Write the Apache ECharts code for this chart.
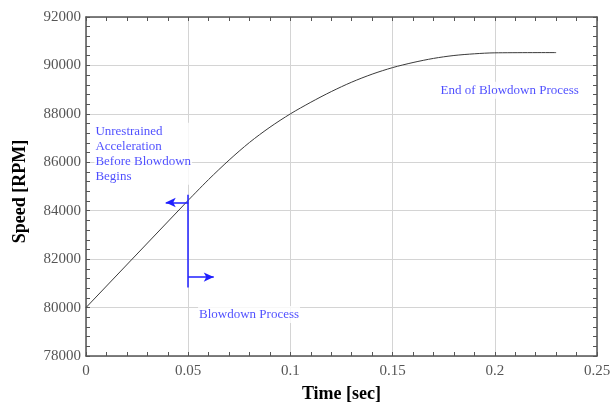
<!DOCTYPE html>
<html>
<head>
<meta charset="utf-8">
<script src="https://cdn.jsdelivr.net/npm/echarts@6/dist/echarts.min.js"></script>
<style>
  html, body { margin: 0; padding: 0; background: #fff; }
  #chart { width: 616px; height: 408px; }
</style>
</head>
<body>
<div id="chart"></div>
<script>
// Rotor speed over time: unrestrained acceleration, then blowdown
const timeSec = [0, 0.05, 0.06, 0.07, 0.08, 0.09, 0.10, 0.11, 0.12, 0.13, 0.14, 0.15, 0.16, 0.17, 0.18, 0.19, 0.20, 0.23];
const speedRpm = [80000, 84430, 85290, 86090, 86820, 87450, 88000, 88480, 88920, 89310, 89640, 89910, 90120, 90290, 90410, 90480, 90520, 90530];
// index where blowdown begins (end of the straight acceleration segment)
const blowdownStartIndex = 1;

// Axis ticks
const xTicks = [0, 0.05, 0.1, 0.15, 0.2, 0.25];
const yTicks = [78000, 80000, 82000, 84000, 86000, 88000, 90000, 92000];

// Annotation geometry in data units: [time, speed]
const blowdownStartLine = [[0.05, 84660], [0.05, 80830]];
const arrowBefore = [[0.05, 84340], [0.039, 84340]];
const arrowAfter = [[0.05, 81260], [0.0625, 81260]];

// Annotation texts and their anchors (left edge, vertical middle)
const notes = [
  { text: 'Unrestrained\nAcceleration\nBefore Blowdown\nBegins', at: [0.0041, 86350] },
  { text: 'Blowdown Process', at: [0.0548, 79710] },
  { text: 'End of Blowdown Process', at: [0.173, 88980] }
];

const SERIF = '"Liberation Serif", "DejaVu Serif", serif';
const BLUE = '#1f1fff';
const AXIS = '#555555';
const GRID = '#d4d4d4';
const CURVE = '#3a3a3a';

const points = timeSec.map((t, i) => [t, speedRpm[i]]);
const accelPart = points.slice(0, blowdownStartIndex + 1);
const blowdownPart = points.slice(blowdownStartIndex);

const chart = echarts.init(document.getElementById('chart'), null, { renderer: 'canvas' });

function baseX(extra) {
  return Object.assign({
    type: 'value',
    min: xTicks[0],
    max: xTicks[xTicks.length - 1],
    interval: xTicks[1] - xTicks[0],
    axisLine: { show: true, onZero: false, lineStyle: { color: AXIS, width: 1.5 } },
    axisTick: { show: true, inside: true, length: 4, lineStyle: { color: AXIS } },
    minorTick: { show: true, splitNumber: 5, length: 4, lineStyle: { color: AXIS } },
    splitLine: { show: false }
  }, extra);
}
function baseY(extra) {
  return Object.assign({
    type: 'value',
    min: yTicks[0],
    max: yTicks[yTicks.length - 1],
    interval: yTicks[1] - yTicks[0],
    axisLine: { show: true, onZero: false, lineStyle: { color: AXIS, width: 1.5 } },
    axisTick: { show: true, inside: true, length: 4, lineStyle: { color: AXIS } },
    minorTick: { show: true, splitNumber: 5, length: 4, lineStyle: { color: AXIS } },
    splitLine: { show: false }
  }, extra);
}

chart.setOption({
  animation: false,
  backgroundColor: '#ffffff',
  grid: { left: 86, top: 17, right: 19, bottom: 51, containLabel: false },
  xAxis: [
    baseX({
      position: 'bottom',
      name: 'Time [sec]',
      nameLocation: 'middle',
      nameGap: 29,
      nameTextStyle: { fontFamily: SERIF, fontWeight: 'bold', fontSize: 18, color: '#000' },
      splitLine: { show: true, lineStyle: { color: GRID, width: 1 } },
      axisLabel: {
        fontFamily: SERIF, fontSize: 15, color: AXIS, margin: 8,
        formatter: v => String(xTicks.find(t => Math.abs(t - v) < 1e-9) ?? v)
      }
    }),
    baseX({ position: 'top', axisLabel: { show: false } })
  ],
  yAxis: [
    baseY({
      position: 'left',
      name: 'Speed [RPM]',
      nameLocation: 'middle',
      nameGap: 57,
      nameTextStyle: { fontFamily: SERIF, fontWeight: 'bold', fontSize: 18, color: '#000', padding: [0, 10, 0, 0] },
      splitLine: { show: true, lineStyle: { color: GRID, width: 1 } },
      axisLabel: {
        fontFamily: SERIF, fontSize: 15, color: AXIS, margin: 5,
        formatter: v => String(v)
      }
    }),
    baseY({ position: 'right', axisLabel: { show: false } })
  ],
  series: [
    {
      // text boxes with white backing, drawn beneath the curve
      type: 'scatter',
      xAxisIndex: 0, yAxisIndex: 0,
      symbolSize: 0,
      silent: true,
      z: 1,
      data: notes.map(n => ({
        value: n.at,
        label: {
          show: true,
          formatter: n.text,
          position: 'inside',
          align: 'left',
          verticalAlign: 'middle',
          fontFamily: SERIF,
          fontSize: 13,
          lineHeight: 15,
          color: BLUE,
          backgroundColor: '#ffffff',
          padding: [1, 1, 1, 1]
        }
      }))
    },
    {
      name: 'Speed (acceleration)',
      type: 'line',
      xAxisIndex: 0, yAxisIndex: 0,
      data: accelPart,
      showSymbol: false,
      symbol: 'none',
      z: 3,
      lineStyle: { color: CURVE, width: 1 }
    },
    {
      name: 'Speed (blowdown)',
      type: 'line',
      xAxisIndex: 0, yAxisIndex: 0,
      data: blowdownPart,
      showSymbol: false,
      symbol: 'none',
      smooth: 0.3,
      z: 3,
      lineStyle: { color: CURVE, width: 1 },
      markLine: {
        silent: true,
        animation: false,
        label: { show: false },
        lineStyle: { color: BLUE, width: 1.5, type: 'solid' },
        symbol: ['none', 'arrow'],
        symbolSize: [7, 10],
        data: [
          [{ coord: blowdownStartLine[0], symbol: 'none' }, { coord: blowdownStartLine[1], symbol: 'none' }],
          [{ coord: arrowBefore[0] }, { coord: arrowBefore[1] }],
          [{ coord: arrowAfter[0] }, { coord: arrowAfter[1] }]
        ]
      }
    }
  ]
});
</script>
</body>
</html>
